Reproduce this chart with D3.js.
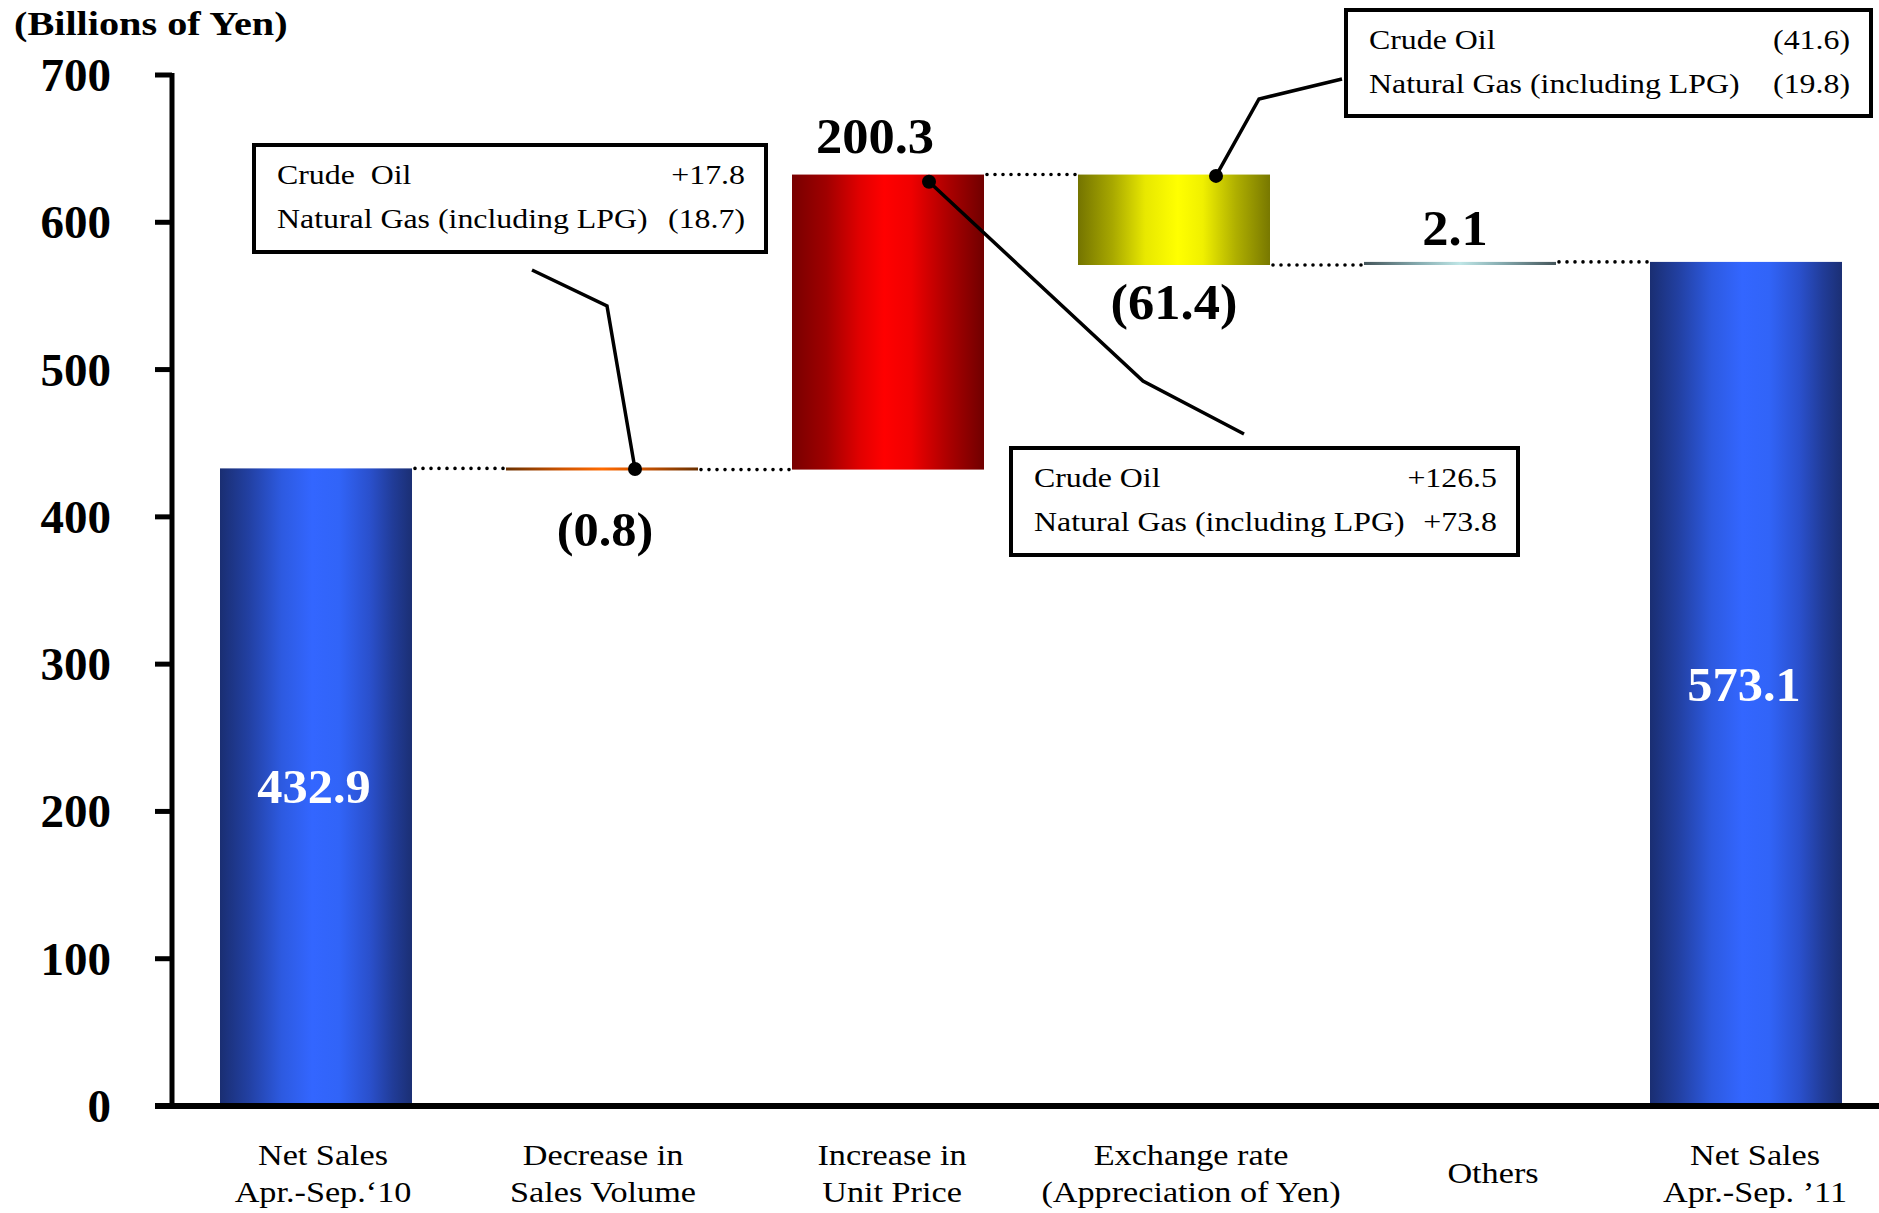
<!DOCTYPE html>
<html>
<head>
<meta charset="utf-8">
<script src="https://cdn.jsdelivr.net/npm/d3@7"></script>
<style>
  html, body { margin: 0; padding: 0; background: #fff; }
  svg { display: block; }
  text { font-family: "Liberation Serif", "Times New Roman", serif; white-space: pre; }
</style>
</head>
<body>
<svg id="chart" width="1879" height="1213"></svg>
<script>
// ---------------- DATA ----------------
const categories = [
  ["Net Sales", "Apr.-Sep.\u201810"],
  ["Decrease in", "Sales Volume"],
  ["Increase in", "Unit Price"],
  ["Exchange rate", "(Appreciation of Yen)"],
  ["Others"],
  ["Net Sales", "Apr.-Sep. \u201911"]
];
const kinds = ["total", "delta", "delta", "delta", "delta", "total"];
const values = [432.9, -0.8, 200.3, -61.4, 2.1, 573.1];
const valueLabels = ["432.9", "(0.8)", "200.3", "(61.4)", "2.1", "573.1"];
const yTicks = [0, 100, 200, 300, 400, 500, 600, 700];
const unitLabel = "(Billions of Yen)";

const calloutVolume = [["Crude\u00a0 Oil", "+17.8"], ["Natural Gas (including LPG)", "(18.7)"]];
const calloutPrice = [["Crude Oil", "+126.5"], ["Natural Gas (including LPG)", "+73.8"]];
const calloutFx = [["Crude Oil", "(41.6)"], ["Natural Gas (including LPG)", "(19.8)"]];

// ---------------- LAYOUT ----------------
const svg = d3.select("#chart");
const axisX = 172;
const barW = 192;
const y = d3.scaleLinear().domain([0, 700]).range([1106, 75]);
const x = d3.scalePoint().domain(d3.range(categories.length)).range([316, 1746]);
const SX = 1.18; // horizontal stretch of the original slide text

// waterfall computation
let run = 0;
const bars = values.map((v, i) => {
  let start, end;
  if (kinds[i] === "total") { start = 0; end = v; run = v; }
  else { start = run; end = run + v; run = end; }
  return { i, v, start, end, lo: Math.min(start, end), hi: Math.max(start, end), kind: kinds[i] };
});

// ---------------- GRADIENTS ----------------
const defs = svg.append("defs");
function hGrad(id, stops) {
  const g = defs.append("linearGradient").attr("id", id)
    .attr("x1", "0%").attr("x2", "100%").attr("y1", "0%").attr("y2", "0%");
  stops.forEach(([o, c]) => g.append("stop").attr("offset", o).attr("stop-color", c));
}
hGrad("gBlue", [[0, "#1a2e72"], [0.15, "#2240a2"], [0.32, "#2d5ae0"], [0.48, "#3366ff"], [0.62, "#3164f8"], [0.78, "#2a50cc"], [0.9, "#213c98"], [1, "#1b2f74"]]);
hGrad("gRed", [[0, "#780000"], [0.18, "#a00000"], [0.35, "#e00000"], [0.48, "#ff0000"], [0.62, "#f00000"], [0.8, "#b00000"], [1, "#700000"]]);
hGrad("gYellow", [[0, "#747400"], [0.18, "#a8a800"], [0.35, "#e8e800"], [0.52, "#ffff00"], [0.65, "#f0f000"], [0.82, "#b0b000"], [1, "#787800"]]);
hGrad("gOrange", [[0, "#6a3000"], [0.3, "#d05400"], [0.5, "#ff6a00"], [0.7, "#d05400"], [1, "#6a3000"]]);
hGrad("gTeal", [[0, "#44555a"], [0.3, "#8ab0b4"], [0.5, "#bfe6e6"], [0.7, "#8ab0b4"], [1, "#44555a"]]);
const fills = ["gBlue", "gOrange", "gRed", "gYellow", "gTeal", "gBlue"];

function stretchText(parent, px, py, str, opt) {
  return parent.append("text")
    .attr("transform", `translate(${px},${py}) scale(${opt.sx || 1},1)`)
    .attr("text-anchor", opt.anchor || "start")
    .attr("font-size", opt.size)
    .attr("font-weight", opt.weight || "normal")
    .attr("fill", opt.fill || "#000")
    .text(str);
}

// ---------------- BARS ----------------
const gBars = svg.append("g");
bars.forEach(b => {
  const top = y(b.hi), bot = y(b.lo);
  const h = Math.max(bot - top, 3);
  gBars.append("rect")
    .attr("x", x(b.i) - barW / 2)
    .attr("y", b.kind === "total" ? top : (top + bot) / 2 - h / 2)
    .attr("width", barW)
    .attr("height", h)
    .attr("fill", `url(#${fills[b.i]})`);
});

// dotted connectors between consecutive bars
const gConn = svg.append("g");
for (let i = 0; i < bars.length - 1; i++) {
  const level = bars[i].end;
  gConn.append("line")
    .attr("x1", x(i) + barW / 2 + 3).attr("x2", x(i + 1) - barW / 2 - 1)
    .attr("y1", y(level)).attr("y2", y(level))
    .attr("stroke", "#000").attr("stroke-width", 3.6)
    .attr("stroke-linecap", "round").attr("stroke-dasharray", "0 8");
}

// ---------------- AXES ----------------
const gAxis = svg.append("g");
gAxis.append("line").attr("x1", axisX).attr("x2", axisX)
  .attr("y1", y(700) - 2).attr("y2", y(0))
  .attr("stroke", "#000").attr("stroke-width", 5);
gAxis.append("line").attr("x1", 155).attr("x2", 1879)
  .attr("y1", y(0)).attr("y2", y(0))
  .attr("stroke", "#000").attr("stroke-width", 6);
yTicks.forEach(t => {
  gAxis.append("line").attr("x1", 155).attr("x2", axisX)
    .attr("y1", y(t)).attr("y2", y(t))
    .attr("stroke", "#000").attr("stroke-width", 5);
  stretchText(gAxis, 111, y(t) + 16, String(t), { size: 47, weight: "bold", anchor: "end" });
});
stretchText(svg, 14, 35, unitLabel, { size: 33, weight: "bold", sx: 1.22 });

// category labels
const labelDx = [7, 1, 4, 17, 33, 9];
categories.forEach((lines, i) => {
  const cx = x(i) + labelDx[i];
  if (lines.length === 1) {
    stretchText(svg, cx, 1183, lines[0], { size: 29, anchor: "middle", sx: SX });
  } else {
    lines.forEach((ln, k) => stretchText(svg, cx, 1165 + k * 37, ln, { size: 29, anchor: "middle", sx: SX }));
  }
});

// value labels
const vl = svg.append("g");
stretchText(vl, x(0) - 2, y(bars[0].hi) + 335, valueLabels[0], { size: 48, weight: "bold", anchor: "middle", fill: "#fff", sx: 1.05 });
stretchText(vl, x(5) - 2, y(bars[5].hi) + 439, valueLabels[5], { size: 48, weight: "bold", anchor: "middle", fill: "#fff", sx: 1.05 });
stretchText(vl, x(1) + 3, y(bars[1].lo) + 76, valueLabels[1], { size: 48, weight: "bold", anchor: "middle", sx: 1.05 });
stretchText(vl, x(2) - 13, y(bars[2].hi) - 22, valueLabels[2], { size: 50, weight: "bold", anchor: "middle", sx: 1.05 });
stretchText(vl, x(3), y(bars[3].lo) + 54, valueLabels[3], { size: 50, weight: "bold", anchor: "middle", sx: 1.05 });
stretchText(vl, x(4) - 5, y(bars[4].hi) - 17, valueLabels[4], { size: 50, weight: "bold", anchor: "middle", sx: 1.05 });

// ---------------- CALLOUTS ----------------
function callout(box, rows, anchor, path) {
  const g = svg.append("g");
  const ax = x(anchor.i) + anchor.dx, ay = y(anchor.v);
  const pts = path.concat([[ax, ay]]);
  g.append("path").attr("d", d3.line()(pts))
    .attr("fill", "none").attr("stroke", "#000").attr("stroke-width", 3.5);
  g.append("circle").attr("cx", ax).attr("cy", ay).attr("r", 7).attr("fill", "#000");
  g.append("rect").attr("x", box.x).attr("y", box.y).attr("width", box.w).attr("height", box.h)
    .attr("fill", "#fff").attr("stroke", "#000").attr("stroke-width", 4);
  rows.forEach((r, k) => {
    const by = box.y + 39 + k * 44;
    stretchText(g, box.x + 23, by, r[0], { size: 27, sx: SX });
    stretchText(g, box.x + box.w - 21, by, r[1], { size: 27, anchor: "end", sx: SX });
  });
}
callout({ x: 254, y: 145, w: 512, h: 107 }, calloutVolume,
  { i: 1, dx: 33, v: 432.5 }, [[532, 270], [607, 306]]);
callout({ x: 1011, y: 448, w: 507, h: 107 }, calloutPrice,
  { i: 2, dx: 41, v: 627.5 }, [[1244, 434], [1143, 381]]);
callout({ x: 1346, y: 10, w: 525, h: 106 }, calloutFx,
  { i: 3, dx: 42, v: 631.5 }, [[1342, 79], [1259, 99]]);
</script>
</body>
</html>
